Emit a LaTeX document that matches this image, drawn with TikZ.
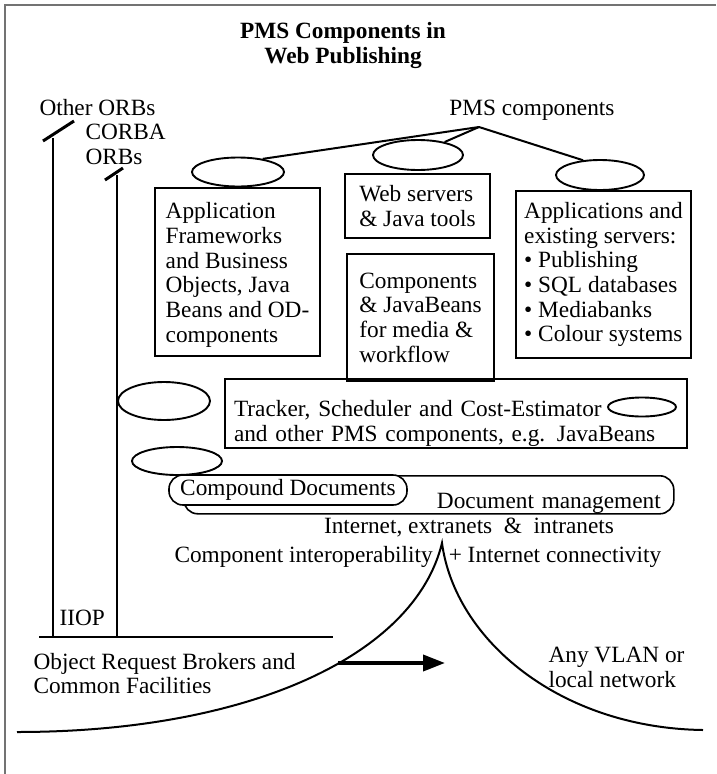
\documentclass[tikz,border=0pt]{standalone}
\usepackage{fontspec}
\setmainfont{Liberation Serif}
\usetikzlibrary{positioning,arrows.meta,shapes.geometric}

\begin{document}
\begin{tikzpicture}[
    x=1pt,
    y=-1pt,
    font=\fontsize{23.3}{24.7}\selectfont,
    node distance=10pt,
    block/.style={
        draw,
        line width=2pt,
        anchor=north west,
        align=left,
        inner sep=0pt
    },
    oval/.style={
        draw,
        ellipse,
        line width=1.9pt,
        inner sep=0pt
    },
    pill/.style={
        draw,
        rounded corners=14pt,
        line width=1.6pt,
        inner ysep=0pt
    },
    wire/.style={
        line width=2pt
    },
    orbtick/.style={
        line width=3pt
    },
    flow/.style={
        -{Triangle[length=22pt,width=16pt]},
        line width=3.8pt
    },
    pageframe/.style={
        draw=black!55,
        line width=1.2pt
    }
]

\useasboundingbox (0,0) rectangle (716,774);

\draw[pageframe] (5,774) -- (5,5) -- (716,5);

\node[font=\fontsize{23.3}{25}\selectfont\bfseries, align=center] (title) at (343,45.5) {PMS Components in\\Web Publishing};

\node[anchor=west] (otherorbs) at (36,108) {Other ORBs};

\node[anchor=west, align=left] (corba) at (82,144.5) {CORBA\\ORBs};

\node (pms) at (532,110) {PMS components};

\coordinate (pmsRoot) at (479,127);

\node[oval, minimum width=92pt, minimum height=29pt] (ovApp) at (238,172) {};

\node[oval, minimum width=90pt, minimum height=30pt] (ovWeb) at (418,155) {};

\node[oval, minimum width=88pt, minimum height=30pt] (ovLegacy) at (600,175) {};

\node[block, minimum width=165pt, minimum height=168pt] (appbox) at (154,187) {\rule{0pt}{22pt}Application\\Frameworks\\and Business\\Objects, Java\\Beans and OD-\\components};

\node[block, minimum width=145pt, minimum height=64pt] (webbox) at (344,173) {Web servers\\\& Java tools};

\node[block, minimum width=147pt, minimum height=127pt] (beanbox) at (346,253) {Components\\\& JavaBeans\\for media \&\\workflow};

\node[block, minimum width=175pt, minimum height=167pt] (legacybox) at (515,190) {Applications and\\existing servers:\\\textbullet\ Publishing\\\textbullet\ SQL databases\\\textbullet\ Mediabanks\\\textbullet\ Colour systems};

\node[block, text width=444pt, inner xsep=9pt, minimum height=69pt] (trackbox) at (224,378) {\rule{0pt}{36pt}Tracker, Scheduler and Cost-Estimator\\and other PMS components, e.g. JavaBeans};

\node[oval, minimum width=92pt, minimum height=38pt] (ovTracker) at (164,401) {};

\node[oval, minimum width=68pt, minimum height=19pt] (ovBean) at (642,407) {};

\node[oval, minimum width=90pt, minimum height=28pt] (ovCompound) at (177,461) {};

\node[pill, anchor=north west, text width=464pt, inner xsep=13pt, align=right, minimum height=38pt, text height=33pt, text depth=5pt] (docmgmt) at (183,475) {Document management};

\node[pill, fill=white, minimum width=238pt, minimum height=30pt] (compound) at (288,490) {Compound Documents};

\node (inet) at (469,528) {Internet, extranets \ \& \ intranets};

\node[anchor=west] (interop) at (171,557) {Component interoperability};

\node[right=9pt of interop] (connect) {+ Internet connectivity};

\node[anchor=west] (iiop) at (56,618) {IIOP};

\node[anchor=west, align=left] (orb) at (30,673.5) {Object Request Brokers and\\Common Facilities};

\node[anchor=west, align=left] (vlan) at (545,667.5) {Any VLAN or\\local network};

\draw[wire] (ovApp.28) -- (pmsRoot);

\draw[wire] (pmsRoot) -- (ovWeb.26);

\draw[wire] (pmsRoot) -- (ovLegacy.139);

\coordinate (otherTop) at (53,138);
\coordinate (otherFoot) at (53,637);
\coordinate (corbaTop) at (117,175);
\coordinate (corbaFoot) at (117,637);
\coordinate (busLeft) at (39,637);
\coordinate (busRight) at (333,637);

\draw[orbtick] (43,141) -- (74,121);
\draw[orbtick] (105,180) -- (123,168);

\draw[wire] (otherTop) -- (otherFoot);

\draw[wire] (corbaTop) -- (corbaFoot);

\draw[wire] (busLeft) -- (busRight);

\coordinate (netTop) at (442,543);
\coordinate (netLeft) at (17,732);
\coordinate (netRight) at (703,730);

\draw[wire] (netLeft) .. controls (250,732) and (415,655) .. (netTop) .. controls (455,640) and (560,728) .. (netRight);

\coordinate (arrowTail) at (338,663);
\coordinate (arrowHead) at (445,663);

\draw[flow] (arrowTail) -- (arrowHead);

\end{tikzpicture}
\end{document}
